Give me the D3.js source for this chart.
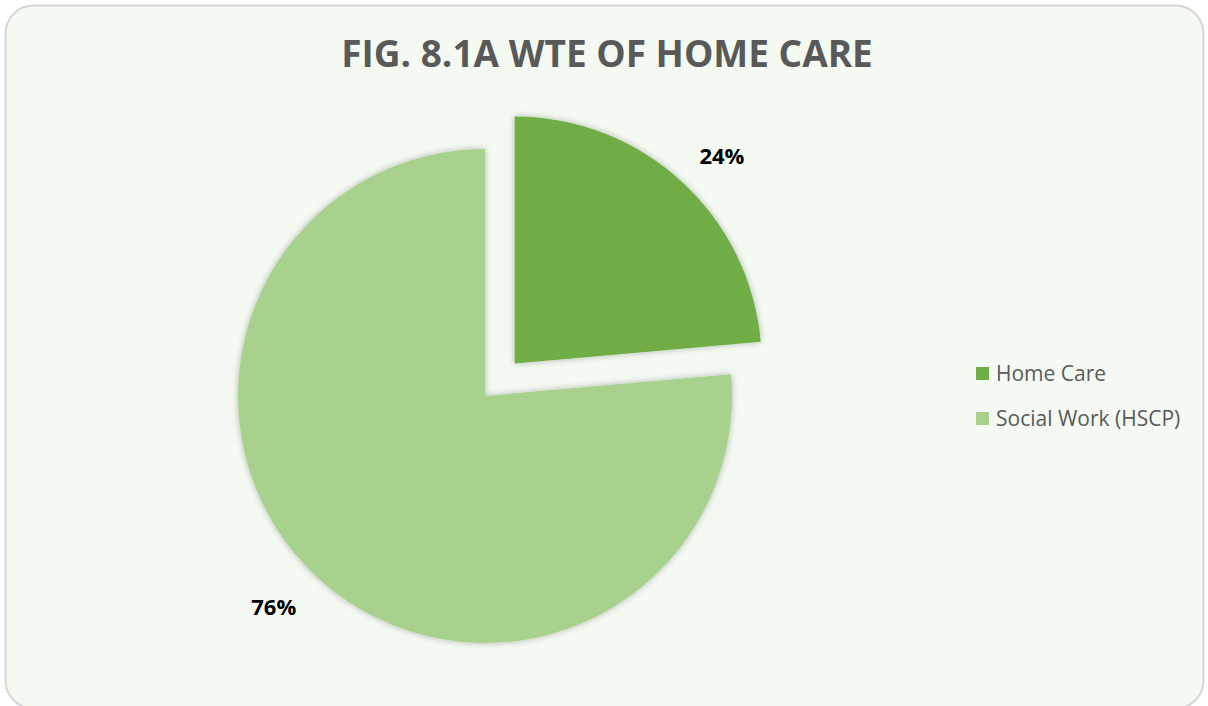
<!DOCTYPE html>
<html>
<head>
<meta charset="utf-8">
<script src="https://cdn.jsdelivr.net/npm/d3@7"></script>
<style>
  html, body { margin: 0; padding: 0; background: #ffffff; }
  svg { display: block; }
</style>
</head>
<body>
<svg id="chart" width="1208" height="706"></svg>
<script>
const title = "FIG. 8.1A WTE OF HOME CARE";
const categories = ["Home Care", "Social Work (HSCP)"];
const values = [23.6, 76.4];
const labels = ["24%", "76%"];
const colors = ["#70ad47", "#a9d18e"];
const explode = [44, 0];

const svg = d3.select("#chart");

const defs = svg.append("defs");
const f = defs.append("filter").attr("id", "shadow")
  .attr("x", "-20%").attr("y", "-20%").attr("width", "140%").attr("height", "140%");
f.append("feDropShadow").attr("dx", 0).attr("dy", 0).attr("stdDeviation", 3)
  .attr("flood-color", "#000").attr("flood-opacity", 0.28);

svg.append("rect")
  .attr("x", 5.5).attr("y", 5.5).attr("width", 1198).attr("height", 703)
  .attr("rx", 28).attr("ry", 28)
  .attr("fill", "#f4f9f2").attr("stroke", "#d6d6d6").attr("stroke-width", 2);

svg.append("text")
  .attr("x", 607).attr("y", 67)
  .attr("text-anchor", "middle")
  .attr("font-family", "'Open Sans', sans-serif")
  .attr("font-weight", 700)
  .attr("font-size", 37)
  .attr("fill", "#595959")
  .text(title);

const cx = 485, cy = 396, R = 247, labelR = 296, labelShift = 2.5 * Math.PI / 180;
const pie = d3.pie().sort(null).value(d => d)(values);
const arc = d3.arc().innerRadius(0).outerRadius(R);

const g = svg.append("g").attr("transform", `translate(${cx},${cy})`);

const slices = g.selectAll("g.slice").data(pie).join("g")
  .attr("class", "slice")
  .attr("transform", (d, i) => {
    const a = (d.startAngle + d.endAngle) / 2;
    return `translate(${Math.sin(a) * explode[i]},${-Math.cos(a) * explode[i]})`;
  });

slices.append("path")
  .attr("d", arc)
  .attr("fill", (d, i) => colors[i])
  .attr("filter", "url(#shadow)");

slices.append("text")
  .attr("transform", d => {
    const a = (d.startAngle + d.endAngle) / 2 + labelShift;
    return `translate(${Math.sin(a) * labelR - 2},${-Math.cos(a) * labelR + 2})`;
  })
  .attr("text-anchor", "middle")
  .attr("dy", "0.35em")
  .attr("font-family", "'Open Sans', sans-serif")
  .attr("font-weight", 700)
  .attr("font-size", 22)
  .attr("fill", "#000")
  .text((d, i) => labels[i]);

const legend = svg.append("g").attr("transform", "translate(976,367)");
const items = legend.selectAll("g").data(categories).join("g")
  .attr("transform", (d, i) => `translate(0,${i * 45})`);
items.append("rect").attr("width", 13).attr("height", 13)
  .attr("fill", (d, i) => colors[i]);
items.append("text")
  .attr("x", 20).attr("y", 6.5).attr("dy", "0.35em")
  .attr("font-family", "'Open Sans', sans-serif")
  .attr("font-size", 21)
  .attr("fill", "#595959")
  .text(d => d);
</script>
</body>
</html>
